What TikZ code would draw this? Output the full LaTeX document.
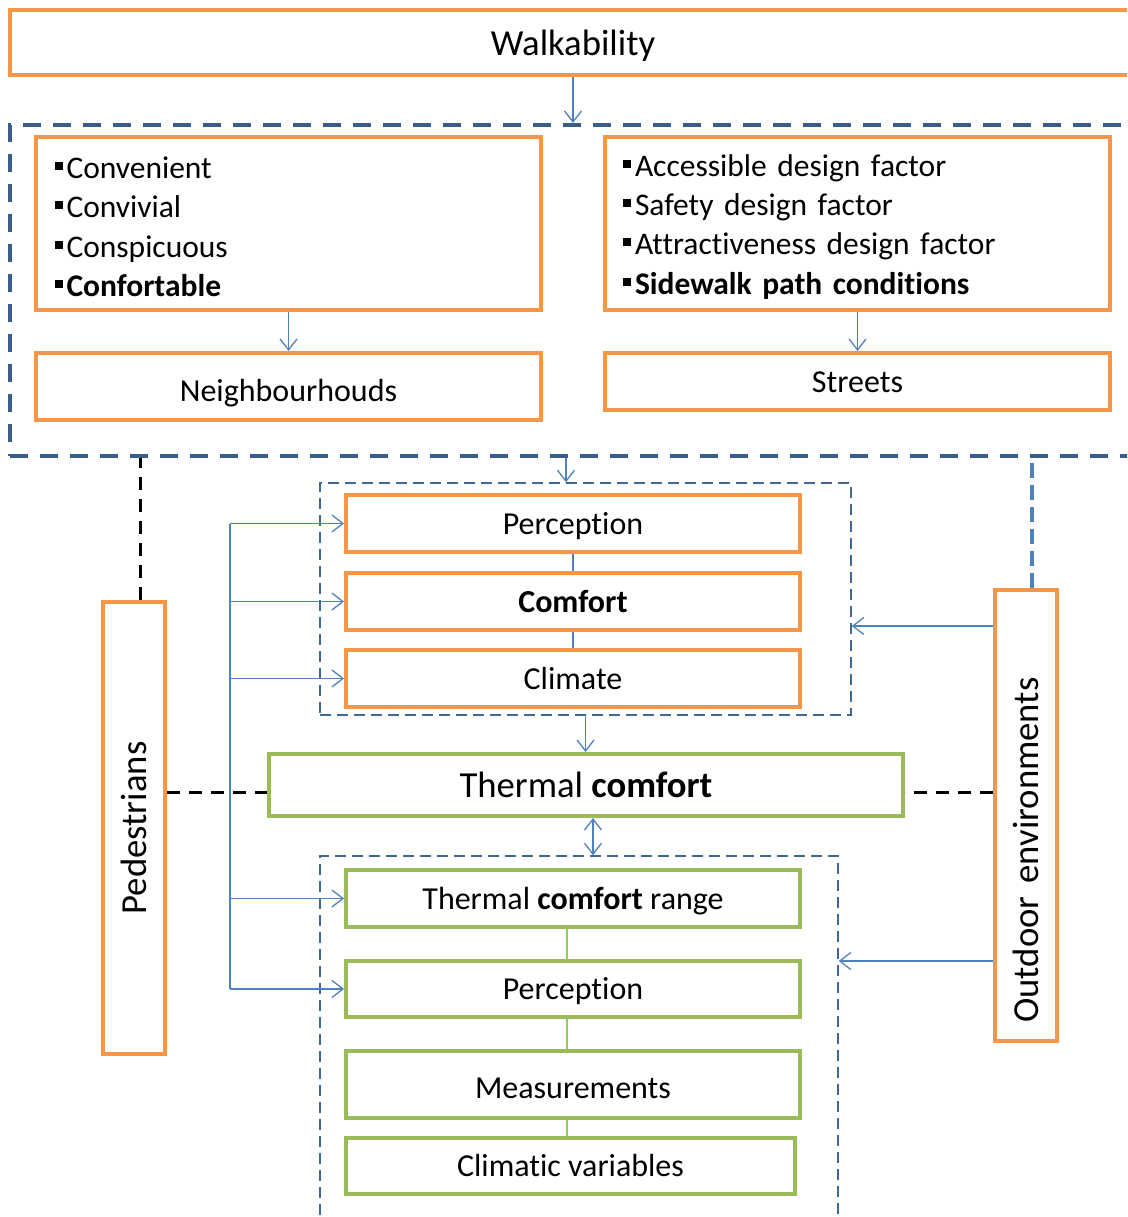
\documentclass[tikz,border=0pt]{standalone}
\usepackage{fontspec}
\setmainfont[Ligatures=NoCommon]{Carlito}
\usetikzlibrary{arrows.meta}
\definecolor{orng}{HTML}{F79646}
\definecolor{grn}{HTML}{9BBB59}
\definecolor{lgrn}{HTML}{92D050}
\definecolor{lblue}{HTML}{4F81BD}
\definecolor{dblue}{HTML}{385D8A}
\newcommand\sqb{\rule[8.5pt]{8pt}{8pt}\hspace{4pt}}
\newcommand\firstline{\rule{0pt}{28.5pt}}

\begin{document}
\begin{tikzpicture}[x=1pt,y=-1pt,
  txt/.style={font=\fontsize{32}{39.3}\selectfont},
  bigtxt/.style={font=\fontsize{36.7}{44}\selectfont},
  even/.style={text height=27.5pt,text depth=6.5pt},
  evenbig/.style={text height=33pt,text depth=7.3pt},
  frame/.style={line width=4pt,inner sep=0pt,txt},
  obox/.style={frame,draw=orng},
  gbox/.style={frame,draw=grn},
  zonebox/.style={draw=dblue,line width=4pt,dash pattern=on 18pt off 12pt,inner sep=0pt},
  groupbox/.style={draw=dblue!70!lblue,line width=1.5pt,dash pattern=on 11pt off 6pt,inner sep=0pt},
  arr/.style={draw=lblue,line width=1.3pt,-{Straight Barb[length=11pt,width=17pt]}},
  darr/.style={draw=lblue,line width=1.3pt,{Straight Barb[length=11pt,width=17pt]}-{Straight Barb[length=11pt,width=17pt]}},
  link/.style={draw=lblue,line width=1.3pt},
  glink/.style={draw=lgrn,line width=1.3pt},
  blk/.style={draw=black,line width=3pt,dash pattern=on 13pt off 9pt},
  bdash/.style={draw=lblue,line width=4pt,dash pattern=on 15pt off 7pt},
]
\useasboundingbox (0,0) rectangle (1127,1217);
\clip (0,0) rectangle (1127,1217);

% top level
\node[obox,bigtxt,evenbig,minimum width=1126pt,minimum height=65pt] (walk) at (573,42.5) {Walkability};
\node[zonebox,minimum width=1140pt,minimum height=331pt] (zone) at (580,290.5) {};

% design criteria and scales
\node[obox,font=\fontsize{31.5}{39.3}\selectfont,align=left,text width=468pt,inner xsep=18.5pt,minimum height=173pt] (lista) at (288.5,223.5)
  {\firstline\sqb Convenient\\ \sqb Convivial\\ \sqb Conspicuous\\ \textbf{\sqb Confortable}};
\node[obox,font=\fontsize{31.5}{39.3}\selectfont,align=left,text width=469pt,inner xsep=18pt,minimum height=173pt] (listb) at (857.5,223.5)
  {\firstline\sqb Accessible design factor\\ \sqb Safety design factor\\ \sqb Attractiveness design factor\\ \textbf{\sqb Sidewalk path conditions}};
\node[obox,text height=35.5pt,text depth=6.5pt,minimum width=505pt,minimum height=67pt] (nbh) at (288.5,386.5) {Neighbourhouds};
\node[obox,even,minimum width=505pt,minimum height=57pt] (str) at (857.5,381.5) {Streets};

% upper group
\node[groupbox,minimum width=531pt,minimum height=232pt] (upper) at (585.5,599) {};
\node[obox,even,minimum width=454pt,minimum height=57pt] (perc1) at (573,523.5) {Perception};
\node[obox,even,minimum width=454pt,minimum height=57pt] (comf) at (573,601.5) {\textbf{Comfort}};
\node[obox,even,minimum width=454pt,minimum height=57pt] (clim) at (573,678.5) {Climate};

% thermal comfort
\node[gbox,bigtxt,evenbig,minimum width=634pt,minimum height=62pt] (thermal) at (586,785) {Thermal \textbf{comfort}};

% lower group
\node[groupbox,minimum width=518pt,minimum height=384pt] (lower) at (579,1048) {};
\node[gbox,even,minimum width=454pt,minimum height=57pt] (tcr) at (573,898.5) {Thermal \textbf{comfort} range};
\node[gbox,even,minimum width=454pt,minimum height=56pt] (perc2) at (573,989) {Perception};
\node[gbox,text height=34.5pt,text depth=6.5pt,minimum width=454pt,minimum height=67pt] (meas) at (573,1084.5) {Measurements};
\node[gbox,even,minimum width=449pt,minimum height=56pt] (climv) at (570.5,1166) {Climatic variables};

% side actors
\node[obox,bigtxt,evenbig,rotate=90,minimum width=452pt,minimum height=62pt] (ped) at (134,828) {Pedestrians};
\node[obox,bigtxt,evenbig,rotate=90,minimum width=451pt,minimum height=62pt] (out) at (1026,815.5) {Outdoor\hspace{13pt}environments\kern69pt};

\coordinate (bx) at (230,0);
\coordinate (gx) at (567,0);
\coordinate (tl) at ([yshift=-7pt]thermal.west);
\coordinate (tr) at ([yshift=-7pt]thermal.east);
\coordinate (ya) at (0,626);
\coordinate (yb) at (0,961);

% arrows in the top part
\draw[arr] (walk.south) -- (walk.south |- zone.north);
\draw[arr] (lista.south) -- (nbh.north);
\draw[arr] (listb.south) -- (str.north);
\draw[arr] ([xshift=-19.5pt]upper.north |- zone.south) -- ([xshift=-19.5pt]upper.north);

% stacked boxes
\draw[link] (perc1.south) -- (comf.north);
\draw[link] (comf.south) -- (clim.north);
\draw[arr] (upper.south) -- (upper.south |- thermal.north);
\draw[darr] ([xshift=7pt]thermal.south) -- ([xshift=7pt]thermal.south |- lower.north);
\draw[glink] (gx |- tcr.south) -- (gx |- perc2.north);
\draw[glink] (gx |- perc2.south) -- (gx |- meas.north);
\draw[glink] (gx |- meas.south) -- (gx |- climv.north);

% pedestrian branch
\draw[link] (bx |- perc1.west) -- (bx |- perc2.west);
\draw[arr] (bx |- perc1.west) -- (perc1.west);
\draw[arr] (bx |- comf.west) -- (comf.west);
\draw[arr] (bx |- clim.west) -- (clim.west);
\draw[arr] (bx |- tcr.west) -- (tcr.west);
\draw[arr] (bx |- perc2.west) -- (perc2.west);
\draw[blk] ([xshift=6pt]ped.east) -- ([xshift=6pt]ped.east |- zone.south);
\draw[blk] (ped.south |- tl) -- (tl);

% environment branch
\draw[bdash] ([xshift=6pt]out.east) -- ([xshift=6pt]out.east |- zone.south);
\draw[arr] (out.north |- ya) -- (upper.east |- ya);
\draw[arr] (out.north |- yb) -- (lower.east |- yb);
\draw[blk] (out.north |- tr) -- (tr);
\end{tikzpicture}
\end{document}
